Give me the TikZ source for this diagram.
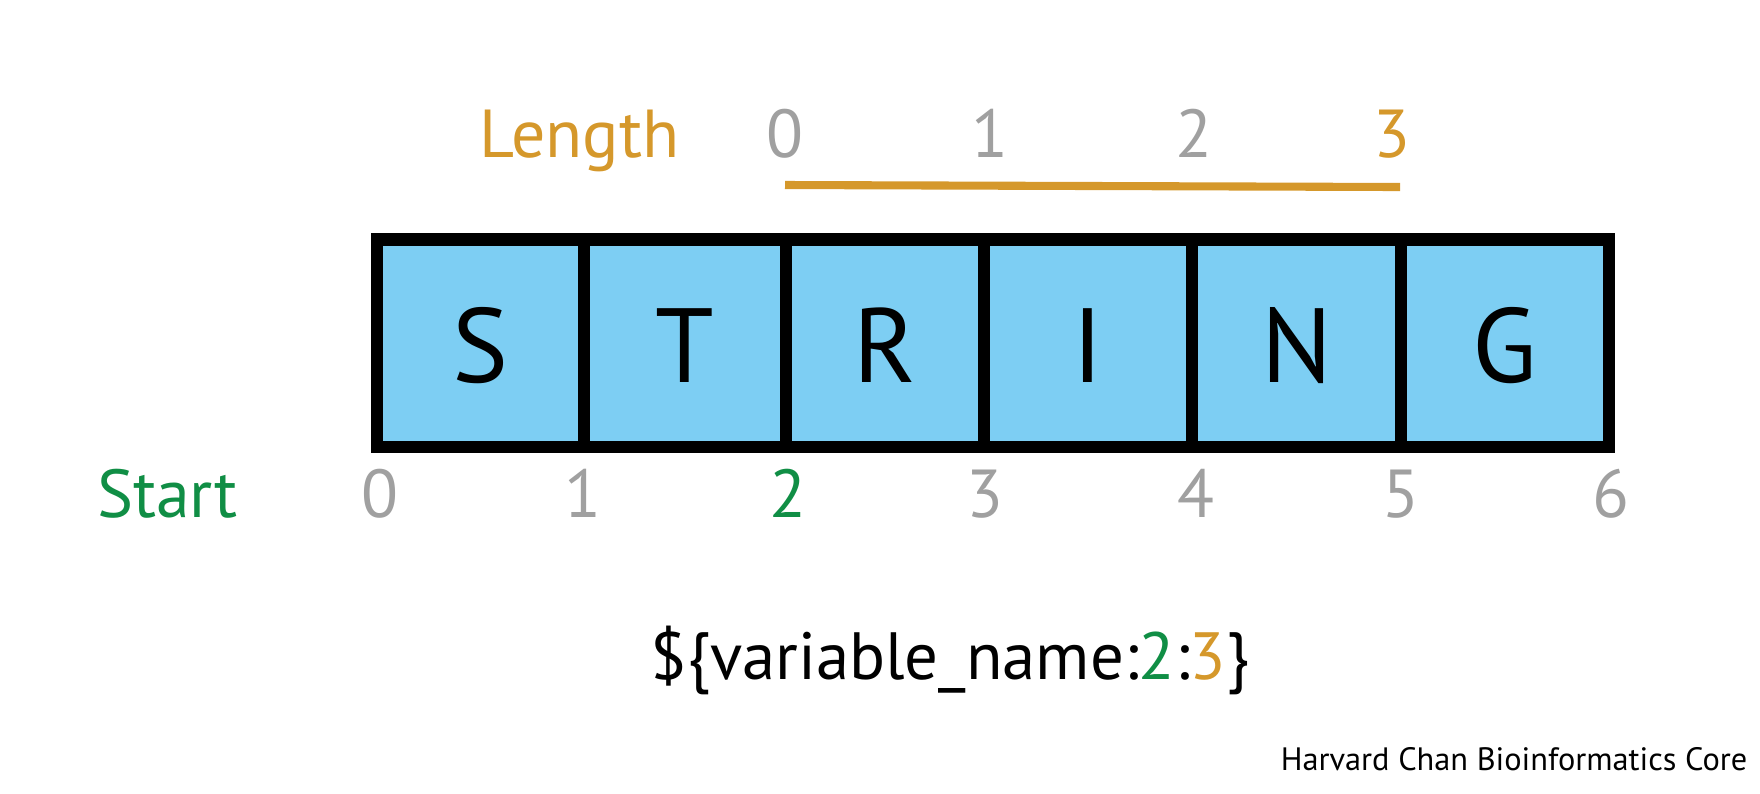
\documentclass[tikz,border=0pt]{standalone}
\usepackage{fontspec}
\setmainfont{PT Sans}
\usepackage{tikz}
\usetikzlibrary{positioning}
\definecolor{lenorange}{RGB}{213,152,43}
\definecolor{startgreen}{RGB}{16,142,69}
\definecolor{idxgray}{RGB}{160,160,160}
\definecolor{cellblue}{RGB}{125,206,243}
\tikzset{
  idx/.style={anchor=base, inner sep=0pt, text=idxgray, font=\fontsize{19.3}{23}\selectfont},
  letter/.style={anchor=base, inner sep=0pt, font=\fontsize{30}{36}\selectfont},
  cellbox/.style={draw=black, fill=cellblue, line width=3.5pt}
}

\begin{document}
\begin{tikzpicture}[x=0.01cm,y=-0.01cm]
  \useasboundingbox (0,0) rectangle (1760,793);

  \foreach \ch/\xa/\xb [count=\i] in {S/377/584,T/584/786,R/786/984,I/984/1192,N/1192/1401,G/1401/1609}{
    \draw[cellbox] (\xa,239.5) rectangle (\xb,447);
    \draw ({(\xa+\xb)/2},382.7) node[letter] (cell\i) {\ch};
  }

  \draw (579.5,157) node[idx, text=lenorange] (length) {Length};
  \foreach \n/\x in {0/785,1/990,2/1194}
    \draw (\x,157) node[idx] (len\n) {\n};
  \draw (1392,157) node[idx, text=lenorange] (len3) {3};
  \coordinate (lenA) at (785,185);
  \coordinate (lenB) at (1400,187);
  \draw[lenorange, line width=2.3pt] (lenA) -- (lenB);

  \draw (167.5,517.5) node[idx, text=startgreen] (start) {Start};
  \foreach \n/\x in {0/380,1/583,3/985,4/1196,5/1401,6/1611}
    \draw (\x,517.5) node[idx] (st\n) {\n};
  \draw (788,517.5) node[idx, text=startgreen] (st2) {2};

  \draw (950,679) node[anchor=base, inner sep=0pt, font=\fontsize{19}{23}\selectfont] (call)
    {\$\{variable\_name:\textcolor{startgreen}{2}:\textcolor{lenorange}{3}\}};

  \draw (1748,770) node[anchor=base east, inner sep=0pt, font=\fontsize{9.2}{11}\selectfont] (credit)
    {Harvard Chan Bioinformatics Core};

\end{tikzpicture}
\end{document}
